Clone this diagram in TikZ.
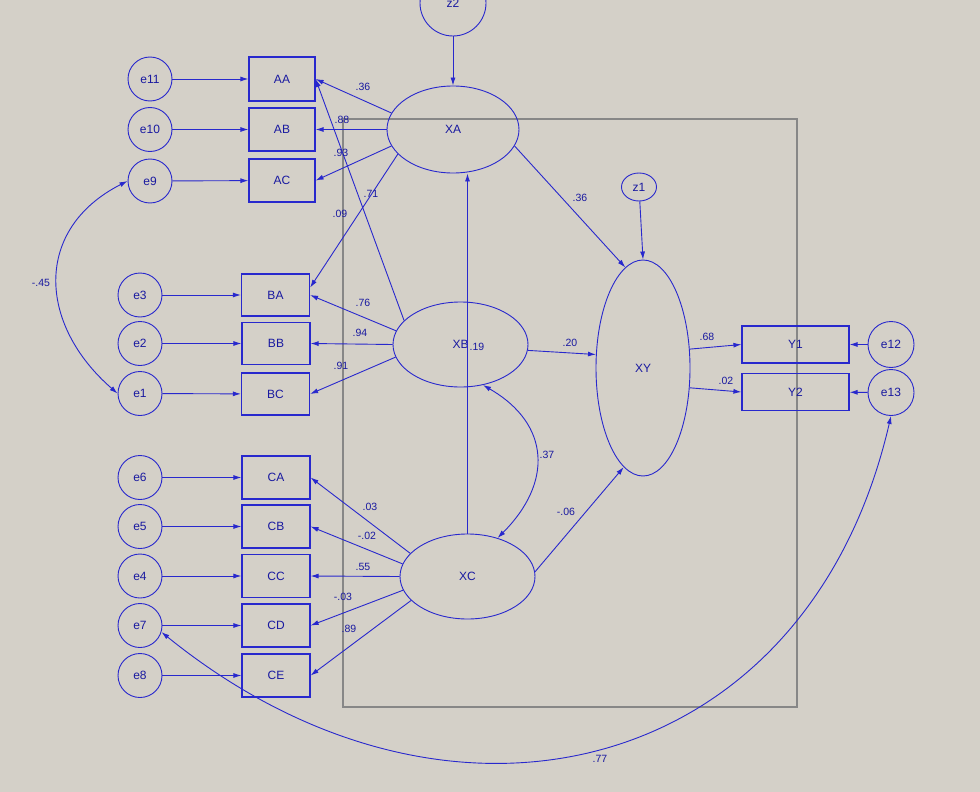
\documentclass[tikz,border=0pt]{standalone}
\usepackage{fontspec}
\setmainfont{Liberation Sans}
\usetikzlibrary{arrows.meta,shapes.geometric}

\definecolor{amosblue}{RGB}{40,40,205}
\definecolor{amostext}{RGB}{25,25,160}
\definecolor{amosbg}{RGB}{212,208,200}
\definecolor{amosframe}{RGB}{135,135,135}

\begin{document}
\begin{tikzpicture}[x=1pt,y=1pt,>={Latex[length=8pt,width=5pt]}]
        \tikzstyle{error}=[circle,draw=amosblue,line width=0.9pt,minimum size=44pt,inner sep=0pt,text=amostext,font=\fontsize{12}{12}\selectfont]
        \tikzstyle{observed}=[rectangle,draw=amosblue,line width=1.2pt,minimum width=68pt,minimum height=43pt,inner sep=0pt,text=amostext,font=\fontsize{12}{12}\selectfont]
        \tikzstyle{latent}=[ellipse,draw=amosblue,line width=0.9pt,inner sep=0pt,text=amostext,font=\fontsize{12}{12}\selectfont]
        \tikzstyle{edge}=[draw=amosblue,line width=0.9pt,->]
        \tikzstyle{cov}=[draw=amosblue,line width=0.9pt,<->]
        \tikzstyle{weight}=[inner sep=0pt,text=amostext,font=\fontsize{10.5}{10.5}\selectfont]
       \useasboundingbox (0,0) rectangle (980,-792);
       \fill[amosbg] (0,0) rectangle (980,-792);
       \draw[amosframe,line width=1.2pt] (343,-119) rectangle (797,-707);
       \begin{scope}
         % errors
         \node [error] (e11) at (150,-79) {e11};
         \node [error] (e10) at (150,-129.5) {e10};
         \node [error] (e9) at (150,-181) {e9};
         \node [error] (e3) at (140,-295) {e3};
         \node [error] (e2) at (140,-343.5) {e2};
         \node [error] (e1) at (140,-393.5) {e1};
         \node [error] (e6) at (140,-477.5) {e6};
         \node [error] (e5) at (140,-526.5) {e5};
         \node [error] (e4) at (140,-576) {e4};
         \node [error] (e7) at (140,-625.5) {e7};
         \node [error] (e8) at (140,-675.5) {e8};
         \node [error,minimum size=46pt] (e12) at (891,-344.5) {e12};
         \node [error,minimum size=46pt] (e13) at (891,-392.5) {e13};
         \node [error,minimum size=66pt] (z2) at (453,-3) {z2};
         \node [latent,minimum width=35pt,minimum height=28pt] (z1) at (639,-187) {z1};
         % observed
         \node [observed,minimum width=66pt,minimum height=44pt] (AA) at (282,-79) {AA};
         \node [observed,minimum width=66pt] (AB) at (282,-129.5) {AB};
         \node [observed,minimum width=66pt] (AC) at (282,-180.5) {AC};
         \node [observed,minimum height=42pt] (BA) at (275.5,-295) {BA};
         \node [observed,minimum height=42pt] (BB) at (276,-343.5) {BB};
         \node [observed,minimum height=42pt] (BC) at (275.5,-394) {BC};
         \node [observed] (CA) at (276,-477.5) {CA};
         \node [observed] (CB) at (276,-526.5) {CB};
         \node [observed] (CC) at (276,-576) {CC};
         \node [observed] (CD) at (276,-625.5) {CD};
         \node [observed] (CE) at (276,-675.5) {CE};
         \node [observed,minimum width=107pt,minimum height=37pt] (Y1) at (795.5,-344.5) {Y1};
         \node [observed,minimum width=107pt,minimum height=37pt] (Y2) at (795.5,-392) {Y2};
         % latent
         \node [latent,minimum width=132pt,minimum height=87pt] (XA) at (453,-129.5) {XA};
         \node [latent,minimum width=135pt,minimum height=85pt] (XB) at (460.5,-344.5) {XB};
         \node [latent,minimum width=135pt,minimum height=85pt] (XC) at (467.5,-576.5) {XC};
         \node [latent,minimum width=94pt,minimum height=216pt] (XY) at (643,-368) {XY};

         \path (e11) edge [edge] (AA);
         \path (e10) edge [edge] (AB);
         \path (e9) edge [edge] (AC);
         \path (e3) edge [edge] (BA);
         \path (e2) edge [edge] (BB);
         \path (e1) edge [edge] (BC);
         \path (e6) edge [edge] (CA);
         \path (e5) edge [edge] (CB);
         \path (e4) edge [edge] (CC);
         \path (e7) edge [edge] (CD);
         \path (e8) edge [edge] (CE);
         \path (e12) edge [edge] (Y1);
         \path (e13) edge [edge] (Y2);

         \path (z2) edge [edge] (XA);
         \path (z1) edge [edge] (XY.north);

         \path (XA.165) edge [edge] (AA.east);
         \path (XA.west) edge [edge] (AB.east);
         \path (XA.195) edge [edge] (AC.east);
         \path (XA.204) edge [edge] (BA.12);
         \path (XB.157) edge [edge] (AA.east);
         \path (XB.168) edge [edge] (BA.east);
         \path (XB.west) edge [edge] (BB.east);
         \path (XB.191) edge [edge] (BC.east);
         \path (XC.158) edge [edge] (CA.east);
         \path (XC.169) edge [edge] (CB.east);
         \path (XC.west) edge [edge] (CC.east);
         \path (XC.192) edge [edge] (CD.east);
         \path (XC.203) edge [edge] (CE.east);

         \path (XC.north) edge [edge] (XC.north |- XA.south);
         \path (XA.-15) edge [edge] (XY.100);
         \path (XB.-5) edge [edge] (XY.164);
         \path (XC.4) edge [edge] (XY.259);
         \path (XY.22) edge [edge] (Y1.west);
         \path (XY.-23) edge [edge] (Y2.west);

         \path (XB.-61) edge [cov,out=-30,in=45,looseness=1.3] (XC.52);
         \path (e9.west) edge [cov,out=207,in=139,looseness=1.27] (e1.west);
         \path (e13.south) edge [cov,out=257,in=-39,looseness=1.25] (e7.-17);

         % weights
         \node [weight] (w1) at (363,-87) {.36};
         \node [weight] (w2) at (342,-120) {.88};
         \node [weight] (w3) at (341,-153) {.93};
         \node [weight] (w4) at (371,-194) {.71};
         \node [weight] (w5) at (340,-214) {.09};
         \node [weight] (w6) at (363,-303) {.76};
         \node [weight] (w7) at (360,-333) {.94};
         \node [weight] (w8) at (341,-366) {.91};
         \node [weight] (w9) at (477,-347) {.19};
         \node [weight] (w10) at (570,-343) {.20};
         \node [weight] (w11) at (580,-198) {.36};
         \node [weight] (w12) at (370,-507) {.03};
         \node [weight] (w13) at (367,-536) {-.02};
         \node [weight] (w14) at (363,-567) {.55};
         \node [weight] (w15) at (343,-597) {-.03};
         \node [weight] (w16) at (349,-629) {.89};
         \node [weight] (w17) at (566,-512) {-.06};
         \node [weight] (w18) at (547,-455) {.37};
         \node [weight] (w19) at (707,-337) {.68};
         \node [weight] (w20) at (726,-381) {.02};
         \node [weight] (w21) at (41,-283) {-.45};
         \node [weight] (w22) at (600,-759) {.77};
        \end{scope}
      \end{tikzpicture}
\end{document}
